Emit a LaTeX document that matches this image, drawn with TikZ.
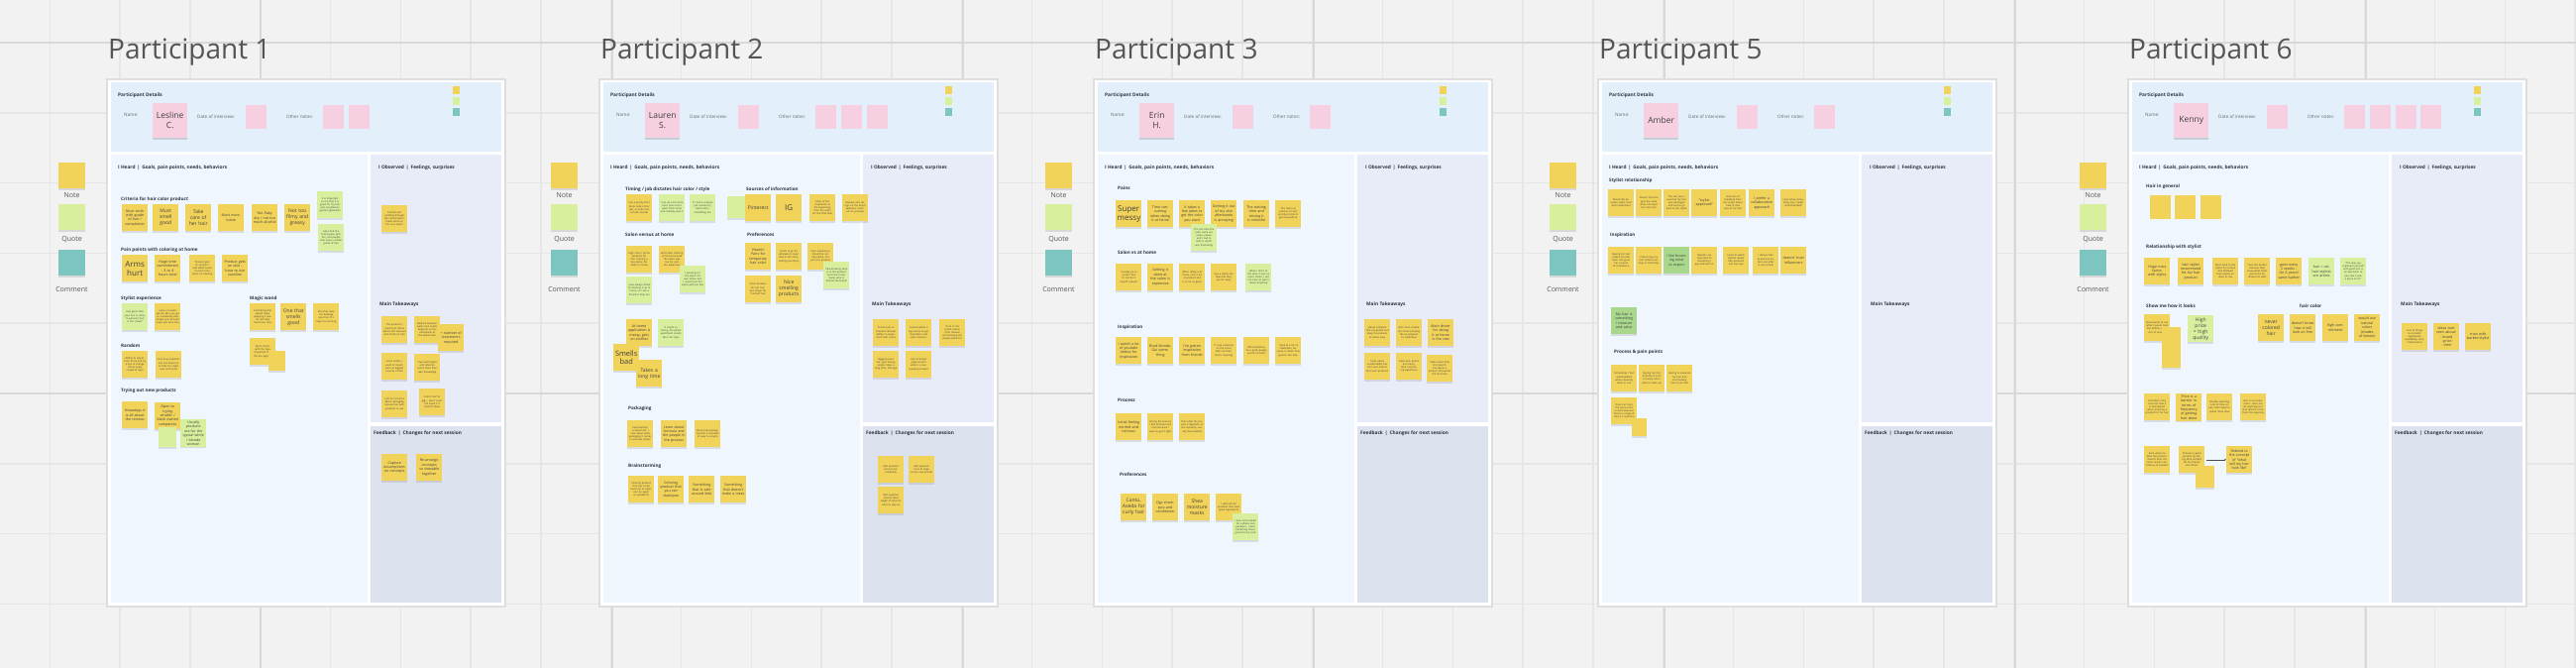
\documentclass[tikz,border=0pt]{standalone}
\usepackage{fontspec}
\setmainfont{Open Sans}
\usepackage{xcolor}
\usepackage{tikz}
\usetikzlibrary{positioning, arrows.meta, shadows}

\definecolor{canvas}{HTML}{F2F2F2}
\definecolor{gridmin}{HTML}{E6E6E6}
\definecolor{gridmaj}{HTML}{D8D8D8}
\definecolor{detblue}{HTML}{E3F0FC}
\definecolor{heardbg}{HTML}{EFF6FD}
\definecolor{obsbg}{HTML}{E8ECF8}
\definecolor{fbbg}{HTML}{DDE3EE}
\definecolor{noteyel}{HTML}{F2D35A}
\definecolor{notegrn}{HTML}{D8F09E}
\definecolor{notedgr}{HTML}{A9D88C}
\definecolor{noteteal}{HTML}{7DC5C0}
\definecolor{notepnk}{HTML}{F6CFE0}
\definecolor{inkgray}{HTML}{555555}
\definecolor{inkdark}{HTML}{2E3440}

\newcommand{\ftbig}{\fontsize{8}{9}\selectfont}
\newcommand{\ftmid}{\fontsize{5}{6}\selectfont}
\newcommand{\ftsml}{\fontsize{3.6}{4.4}\selectfont}
\newcommand{\fttny}{\fontsize{2.5}{3.1}\selectfont}

% one interview board: prefix, number, name, other-note cards
\newcommand{\participantboard}[4]{%
  \node[ttl] (#1t) at (1,-20) {Participant #2};
  \draw[boardframe] (0,0) rectangle (402,532);
  \fill[detblue] (4,3) rectangle (398,73);
  \fill[heardbg] (4,76) rectangle (263,528);
  \fill[obsbg] (266,76) rectangle (398,346);
  \fill[fbbg] (266,350) rectangle (398,528);
  \node[hd] (#1pd) at (11,16) {Participant Details};
  \node[lbl] (#1nm) at (17,36) {Name:};
  \node[namecard] (#1name) at (46,24) {#3};
  \node[lbl] (#1dl) at (91,38) {Date of interview:};
  \node[card] (#1dc) at (140,26) {};
  \node[lbl] (#1ol) at (181,38) {Other notes:};
  \foreach \k in {1,...,#4} \node[card] (#1oc\k) at ({218+25.7*(\k-1)},26) {};
  \node[keysq, fill=noteyel] (#1k1) at (349,7) {};
  \node[keysq, fill=notegrn] (#1k2) at (349,18) {};
  \node[keysq, fill=noteteal] (#1k3) at (349,29) {};
  \node[hd] (#1hd) at (11,89) {I Heard \,|\, Goals, pain points, needs, behaviors};
  \node[hd] (#1ob) at (274,89) {I Observed \,|\, Feelings, surprises};
  \node[hd] (#1mt) at (275,227) {Main Takeaways};
  \node[hd] (#1fb) at (269,357) {Feedback \,|\, Changes for next session};
  \node[legsq, fill=noteyel] (#1ln) at (-49,84) {};
  \node[legtx] (#1lnt) at (-35.5,117) {Note};
  \node[legsq, fill=notegrn] (#1lq) at (-49,126) {};
  \node[legtx] (#1lqt) at (-35.5,162) {Quote};
  \node[legsq, fill=noteteal] (#1lc) at (-49,172) {};
  \node[legtx] (#1lct) at (-35.5,212) {Comment};
}

\begin{document}
\begin{tikzpicture}[x=1pt, y=-1pt,
    every node/.style={inner sep=0pt, text=inkdark},
    shade/.style={drop shadow={shadow xshift=0pt, shadow yshift=-1.4pt, opacity=0.22}},
    ttl/.style={anchor=base west, font=\fontsize{28}{30}\selectfont, text=inkgray},
    hd/.style={anchor=west, font=\bfseries\fontsize{4.8}{5.5}\selectfont},
    sub/.style={anchor=west, font=\bfseries\fontsize{4.6}{5.5}\selectfont},
    lbl/.style={anchor=west, font=\fontsize{4.6}{5.5}\selectfont, text=black!60},
    boardframe/.style={fill=white, draw=black!13, line width=1.2pt},
    namecard/.style={anchor=north west, fill=notepnk, minimum width=35pt, minimum height=35pt, align=center, font=\fontsize{8.5}{10}\selectfont, text=black!75, drop shadow={shadow xshift=0pt, shadow yshift=-1.8pt, opacity=0.3}},
    card/.style={anchor=north west, fill=notepnk, minimum width=21pt, minimum height=24pt},
    keysq/.style={anchor=north west, minimum width=7pt, minimum height=8pt},
    legsq/.style={anchor=north west, minimum width=27pt, minimum height=26pt, shade},
    legtx/.style={font=\fontsize{7}{8}\selectfont, text=inkgray},
    note/.style={anchor=north west, minimum width=26pt, minimum height=27pt, text width=23pt, inner sep=1.5pt, align=center, text=black!75, font=\fttny, shade},
    yel/.style={note, fill=noteyel},
    grn/.style={note, fill=notegrn},
    dgr/.style={note, fill=notedgr},
    blank/.style={anchor=north west, fill=noteyel, shade},
    flat/.style={anchor=north west, fill=noteyel, minimum width=21pt, minimum height=24pt},
    conn/.style={draw=black!70, line width=0.4pt, -{Stealth[length=2pt, width=1.6pt]}}
]
\useasboundingbox (0,0) rectangle (2600,674);
\fill[canvas] (0,0) rectangle (2600,674);
\foreach \i in {0,...,37} \draw[gridmin, line width=1.6pt] ({-20.4+70.8*\i},0) -- ({-20.4+70.8*\i},674);
\foreach \j in {0,...,9} \draw[gridmin, line width=1.6pt] (0,{-27.8+70.8*\j}) -- (2600,{-27.8+70.8*\j});
\foreach \v in {263,618,972,1326,1680,2034,2388} \draw[gridmaj, line width=2.4pt] (\v,0) -- (\v,674);
\foreach \h in {43,397} \draw[gridmaj, line width=2.4pt] (0,\h) -- (2600,\h);

% Participant 1
\begin{scope}[shift={(108,80)}]
\participantboard{a}{1}{Lesline\\C.}{2}
\node[sub] (a1) at (14,121) {Criteria for hair color product};
\node[yel, font=\ftsml] (a2) at (15,126) {Must work with grade of hair / complexion};
\node[yel, font=\ftmid] (a3) at (46,126) {Must smell good};
\node[yel, font=\ftmid] (a4) at (79,126) {Take care of her hair};
\node[yel, font=\ftsml] (a5) at (112,126) {Must moisturize};
\node[yel, font=\ftsml] (a6) at (146,126) {Not flaky dry / not too much alcohol};
\node[yel, font=\ftmid] (a7) at (179,126) {Not too filmy and greasy};
\node[grn] (a8) at (212,113) {It is important to me that it is good for my hair and complexion, gentle ingredients};
\node[grn] (a9) at (213,146) {Likes that the brand goes with her, and people who have a similar grade of hair};
\node[sub] (a10) at (14,172) {Pain points with coloring at home};
\node[yel, font=\ftbig] (a11) at (15,177) {Arms hurt};
\node[yel, font=\ftsml] (a12) at (48,177) {Huge time commitment - 3 to 4 hours total};
\node[yel] (a13) at (83,177) {Product gets on counter / wall which leads to more time spent on cleanup};
\node[yel, font=\ftsml] (a14) at (116,177) {Product gets on skin - have to use vaseline};
\node[sub] (a15) at (14,221) {Stylist experience};
\node[grn] (a16) at (15,226) {Feel good after your hair is done, ``a woman's hair is her crown''};
\node[yel] (a17) at (48,226) {Have a trusted person who you go to, somebody who knows you and will make you look nice};
\node[sub] (a18) at (144,221) {Magic wand};
\node[yel] (a19) at (144,226) {Something that would make applying it easier and take much less time};
\node[yel, font=\ftmid] (a20) at (175,226) {One that smells good};
\node[yel] (a21) at (208,226) {One that does not damage your hair if it stays on too long};
\node[yel] (a22) at (144,261) {Must match with the type of product that the pro applies};
\node[blank, minimum width=17pt, minimum height=20pt] (a23) at (163,274) {};
\node[sub] (a24) at (14,269) {Random};
\node[yel] (a25) at (15,274) {Willing to experiment more and try a dye to change colour every couple of days};
\node[yel] (a26) at (49,274) {Only buys products she has heard of, or that her stylist uses and trusts};
\node[sub] (a27) at (14,314) {Trying out new products};
\node[yel, font=\ftsml] (a28) at (15,325) {Nowadays it is all about the reviews};
\node[yel, font=\ftsml] (a29) at (48,326) {Open to trying smaller / black owned companies};
\node[blank, fill=notegrn, minimum width=18pt, minimum height=20pt] (a30) at (52,351) {};
\node[grn, font=\ftsml] (a31) at (74,343) {Usually products are for the typical white / blonde woman};
\node[yel] (a32) at (277,127) {Excited and nodding through the conversation, made sense to her as a stylist};
\node[yel] (a33) at (277,239) {The products I used from stores before felt stressed and harsh on hair};
\node[yel] (a34) at (310,239) {Balance between wants and needs, depends on the complexity of the whole look};
\node[yel, font=\ftsml] (a35) at (334,247) {+ number of treatments required};
\node[yel] (a36) at (277,276) {Social media + word of mouth seen as biggest sources of info};
\node[yel] (a37) at (310,277) {Trust with stylist and referrals count more than own knowledge};
\node[yel] (a38) at (277,314) {Lots of concerns about damaging natural hair with products in use};
\node[yel] (a39) at (315,312) {Colors hair for gigs - won't cover full head if it doesn't show};
\node[yel, font=\ftsml] (a40) at (277,378) {Capture assumptions on concepts};
\node[yel, font=\ftsml] (a41) at (312,378) {Re-arrange concepts so viewable together};
\end{scope}

% Participant 2
\begin{scope}[shift={(605,80)}]
\participantboard{b}{2}{Lauren\\S.}{3}
\node[sub] (b1) at (26,111) {Timing / job dictates hair color / style};
\node[yel] (b2) at (27,116) {Has a pretty strict dress code at her job, so color has to look neutral};
\node[grn] (b3) at (60,116) {I can do a bit more color now since I work from home and nobody sees it};
\node[grn] (b4) at (91,116) {If I had a creative job I would try bold colors, something fun};
\node[blank, fill=notegrn, minimum width=20pt, minimum height=22pt] (b5) at (129,118) {};
\node[sub] (b6) at (148,111) {Sources of information};
\node[yel, font=\ftmid] (b7) at (147,116) {Pinterest};
\node[yel, font=\ftbig] (b8) at (178,116) {IG};
\node[yel] (b9) at (212,116) {Most of the inspiration at the beginning, then the salon for the final look};
\node[yel] (b10) at (245,116) {Reviews and ratings on the brand websites, tutorials on youtube};
\node[sub] (b11) at (26,157) {Salon versus at home};
\node[yel] (b12) at (27,168) {High costs / prime products for hair coloring a key option for salon vs home};
\node[yel] (b13) at (60,168) {Went with coloring at home because the salon was too far and too expensive};
\node[grn] (b14) at (81,188) {I would go to the salon if it was closer and I could trust the stylist with my hair};
\node[grn] (b15) at (27,199) {I was always afraid of messing it up at home, so I ask a friend to help me};
\node[sub] (b16) at (149,157) {Preferences};
\node[yel, font=\ftsml] (b17) at (147,165) {Vitamin Paris for temporary hair color};
\node[yel] (b18) at (178,165) {Tends to go for whatever is available in the store, nothing too fancy};
\node[yel] (b19) at (210,165) {Each experience should be collaborative, not just one product};
\node[grn] (b20) at (226,184) {I like knowing what is in the product and how it was made, who is behind the brand};
\node[yel] (b21) at (147,198) {Short duration for her hair, but longer for ``normal'' hair};
\node[yel, font=\ftmid] (b22) at (178,198) {Nice smelling products};
\node[yel, font=\ftsml] (b23) at (27,242) {At home application is messy, gets on clothes};
\node[grn] (b24) at (59,242) {It smells so strong, the whole apartment smells like it for days};
\node[yel, font=\fontsize{7.4}{8.4}\selectfont] (b25) at (14,267) {Smells bad};
\node[yel, font=\ftmid] (b26) at (37,283) {Takes a long time};
\node[sub] (b27) at (29,332) {Packaging};
\node[yel] (b28) at (28,344) {Sustainability is important, I care about what packaging it comes in and less plastic};
\node[yel, font=\ftsml] (b29) at (62,344) {Learn about formula and the people in the process};
\node[yel] (b30) at (96,344) {Would like packaging that is reusable or easy to recycle};
\node[sub] (b31) at (29,390) {Brainstorming};
\node[yel] (b32) at (29,400) {Coloring product that you could wash out at night, and do again on weekends};
\node[yel, font=\ftsml] (b33) at (59,400) {Coloring product that you can shampoo};
\node[yel, font=\ftsml] (b34) at (90,400) {Something that is safe around kids};
\node[yel, font=\ftsml] (b35) at (122,400) {Something that doesn't make a mess};
\node[yel] (b36) at (276,242) {Current job or situation dictates ability to experiment with colors};
\node[yel] (b37) at (309,242) {Social media's a big source to get inspiration and learn how-to's};
\node[yel] (b38) at (343,242) {Trust in the brand comes from reviews and knowing the people behind it};
\node[yel] (b39) at (276,274) {Biggest pains are: gets messy, smells, takes a long time, damage};
\node[yel] (b40) at (309,274) {Lack of knowledge around what is a sustainable product};
\node[yel] (b41) at (281,380) {Add question around sustainability};
\node[yel] (b42) at (312,380) {Add question trust of large versus new brands};
\node[yel] (b43) at (281,411) {Add question around ideal length of time for color to stay on};
\end{scope}

% Participant 3
\begin{scope}[shift={(1104,80)}]
\participantboard{c}{3}{Erin\\H.}{1}
\node[sub] (c1) at (24,110) {Pains};
\node[yel, font=\ftbig] (c2) at (22,122) {Super messy};
\node[yel, font=\ftsml] (c3) at (54,122) {Time consuming when doing it at home};
\node[yel, font=\ftsml] (c4) at (86,122) {It takes a few takes to get the color you want};
\node[yel, font=\ftsml] (c5) at (118,122) {Getting it out of my skin afterwards is annoying};
\node[yel, font=\ftsml] (c6) at (151,122) {The waiting time and rinsing it is stressful};
\node[yel] (c7) at (183,122) {The clean up process is hard and dye tends to get everywhere};
\node[grn] (c8) at (98,146) {The last time the color came out really uneven and I had to redo it, which was frustrating};
\node[sub] (c9) at (24,175) {Salon vs at home};
\node[yel] (c10) at (22,186) {I usually go to a salon, but if I can do it myself I would};
\node[yel, font=\ftsml] (c11) at (54,186) {Getting it done at the salon is expensive};
\node[yel] (c12) at (86,186) {When doing it at home I use a lot of product and it is not as good};
\node[yel] (c13) at (118,186) {Has a stylist she likes but they are far away};
\node[grn] (c14) at (153,186) {When I did it at the salon it was so much better, I did not have to worry about anything};
\node[sub] (c15) at (24,250) {Inspiration};
\node[yel, font=\ftsml] (c16) at (22,260) {I watch a lot of youtube videos for inspiration};
\node[yel, font=\ftsml] (c17) at (54,260) {Brad Mondo, Gui something};
\node[yel, font=\ftsml] (c18) at (86,260) {I've gotten inspiration from friends};
\node[yel] (c19) at (118,260) {If I see someone on the street with cool hair, that is inspiring};
\node[yel] (c20) at (151,260) {Will sometimes do a quick google search of colors};
\node[yel] (c21) at (183,260) {I look at a lot of celebrities, because it shows how good it can look};
\node[sub] (c22) at (24,324) {Process};
\node[yel, font=\ftsml] (c23) at (22,337) {Initial feeling excited and nervous};
\node[yel] (c24) at (54,337) {During the process I feel stressed and rush because I want to get it right};
\node[yel] (c25) at (86,337) {Then after the process it depends on the outcome, usually feel satisfied};
\node[sub] (c26) at (26,399) {Preferences};
\node[yel, font=\ftmid] (c27) at (27,418) {Cantu, Aveda for curly hair};
\node[yel, font=\ftsml] (c28) at (59,418) {Ogx shampoo and conditioner};
\node[yel, font=\ftmid] (c29) at (91,418) {Shea moisture masks};
\node[yel] (c30) at (123,418) {I will look for products that have good ingredients};
\node[grn] (c31) at (140,438) {I look at the labels for sulfates and parabens, I want something that is good for my curls};
\node[yel] (c32) at (273,242) {Values products that are gentle and keep the process at home easy};
\node[yel] (c33) at (305,242) {Gets more inspiration from everyday life as opposed to celebrities};
\node[yel, font=\ftsml] (c34) at (337,242) {Main driver for doing it at home is the cost};
\node[yel] (c35) at (273,276) {Cares about sustainability but isn't sure how to find such products};
\node[yel] (c36) at (305,276) {Main pain points are messy, time consuming experience};
\node[yel] (c37) at (336,278) {Takes some time to research, but wants a product that works the first time};
\end{scope}

% Participant 5
\begin{scope}[shift={(1613,80)}]
\participantboard{d}{5}{Amber}{1}
\node[sub] (d1) at (11,102) {Stylist relationship};
\node[yel] (d2) at (10,111) {Would like between stylist trust and involvement};
\node[yel] (d3) at (38,111) {Doesn't feel she gets the extra when she dyes her own hair};
\node[yel] (d4) at (66,111) {The last time I saw that my hair was damaged and had to go back to the stylist};
\node[yel, font=\ftsml] (d5) at (94,111) {``stylist approved''};
\node[yel] (d6) at (123,111) {Gets lots of feedback from her stylist about how to take care of her hair};
\node[yel, font=\ftsml] (d7) at (152,111) {I prefer a collaborative approach};
\node[yel] (d8) at (184,111) {Likes when something says ``stylist recommended''};
\node[sub] (d9) at (12,157) {Inspiration};
\node[yel] (d10) at (10,169) {Dyeing her hair makes her feel fresh and gives her a boost of confidence};
\node[yel] (d11) at (38,169) {I like to dye my hair before holidays or birthdays};
\node[dgr, font=\ftsml] (d12) at (66,169) {I like browsing what to expect};
\node[yel] (d13) at (94,169) {Reviews are important to something I pay attention to};
\node[yel] (d14) at (126,169) {Loves to watch stylists review hair products and hair dye};
\node[yel] (d15) at (156,169) {I always look at pictures before and after to see results};
\node[yel, font=\ftsml] (d16) at (184,169) {doesn't trust influencers};
\node[dgr, font=\ftsml] (d17) at (13,230) {My hair is something I treasure and value};
\node[sub] (d18) at (16,275) {Process \& pain points};
\node[yel] (d19) at (13,288) {Sometimes I feel overwhelmed when choosing what to use};
\node[yel] (d20) at (41,288) {Dyeing my hair at home is such a hassle, and a pain to clean up};
\node[yel] (d21) at (69,288) {Having to separate my hair and not knowing how to do that};
\node[yel] (d22) at (13,321) {Does not trust the same color in store because there's a range of colors it could be};
\node[blank, minimum width=15pt, minimum height=18pt] (d23) at (34,342) {};
\end{scope}

% Participant 6
\begin{scope}[shift={(2148,80)}]
\participantboard{e}{6}{Kenny}{4}
\node[sub] (e1) at (18,108) {Hair in general};
\node[flat] (e2) at (22,117) {};
\node[flat] (e3) at (47,117) {};
\node[flat] (e4) at (73,117) {};
\node[sub] (e5) at (18,169) {Relationship with stylist};
\node[yel, font=\ftsml] (e6) at (16,180) {Huge trust factor with stylist};
\node[yel, font=\ftsml] (e7) at (50,180) {hair stylist recommend his fav hair product};
\node[yel] (e8) at (85,180) {Went back to the stylist he trusted and followed their advice on what to use};
\node[yel] (e9) at (117,180) {Trust the barber because they know what looks good and he knows his stuff};
\node[yel, font=\ftsml] (e10) at (149,180) {goes every 2 weeks - for 6 years! same barber};
\node[grn, font=\ftsml] (e11) at (182,180) {hair = art, hair stylists are artists};
\node[grn] (e12) at (214,180) {``The way you represent yourself with good hair is an extension of you, like it was a piece of art''};
\node[sub] (e13) at (18,229) {Show me how it looks};
\node[yel] (e14) at (16,237) {Would want to see what it would look like before, some sort of preview};
\node[blank, minimum width=19pt, minimum height=41pt] (e15) at (34,250) {};
\node[grn, font=\ftmid] (e16) at (60,238) {High price = high quality};
\node[sub] (e17) at (173,229) {hair color};
\node[yel, font=\ftmid] (e18) at (131,237) {never colored hair};
\node[yel, font=\ftsml] (e19) at (163,237) {doesn't know how it will look on him};
\node[yel, font=\ftsml] (e20) at (196,237) {high commitment};
\node[yel, font=\ftsml] (e21) at (228,237) {would use natural colors (shades of brown)};
\node[yel] (e22) at (16,317) {Considers time, cost and how it is maintained when choosing a product for his hair};
\node[yel, font=\ftsml] (e23) at (48,317) {Price is a barrier in terms of frequency of getting hair done};
\node[yel] (e24) at (79,317) {already spending a lot of time on hair, don't want to spend more time};
\node[yel] (e25) at (113,317) {Hair is an investment - does not do anything to it that doesn't come from the expertise};
\node[yel] (e26) at (16,370) {Even when he likes the product, doesn't trust the salon results consistency of product};
\node[yel] (e27) at (51,370) {Chooses a good product by asking what worked for his friends and others};
\node[blank, minimum width=19pt, minimum height=22pt] (e28) at (68,390) {};
\node[yel, font=\ftsml] (e29) at (99,370) {Related to the concept of ``what will my hair look like''};
\draw[conn, shorten <=2pt] (e27) -- (e29);
\node[yel] (e30) at (276,246) {Lots of things to consider: ingredients, availability, time, maintenance};
\node[yel, font=\ftsml] (e31) at (308,246) {ideas over seen about:\\- brand\\- price\\- time};
\node[yel, font=\ftsml] (e32) at (340,246) {trust with barber/stylist};
\end{scope}
\end{tikzpicture}
\end{document}
